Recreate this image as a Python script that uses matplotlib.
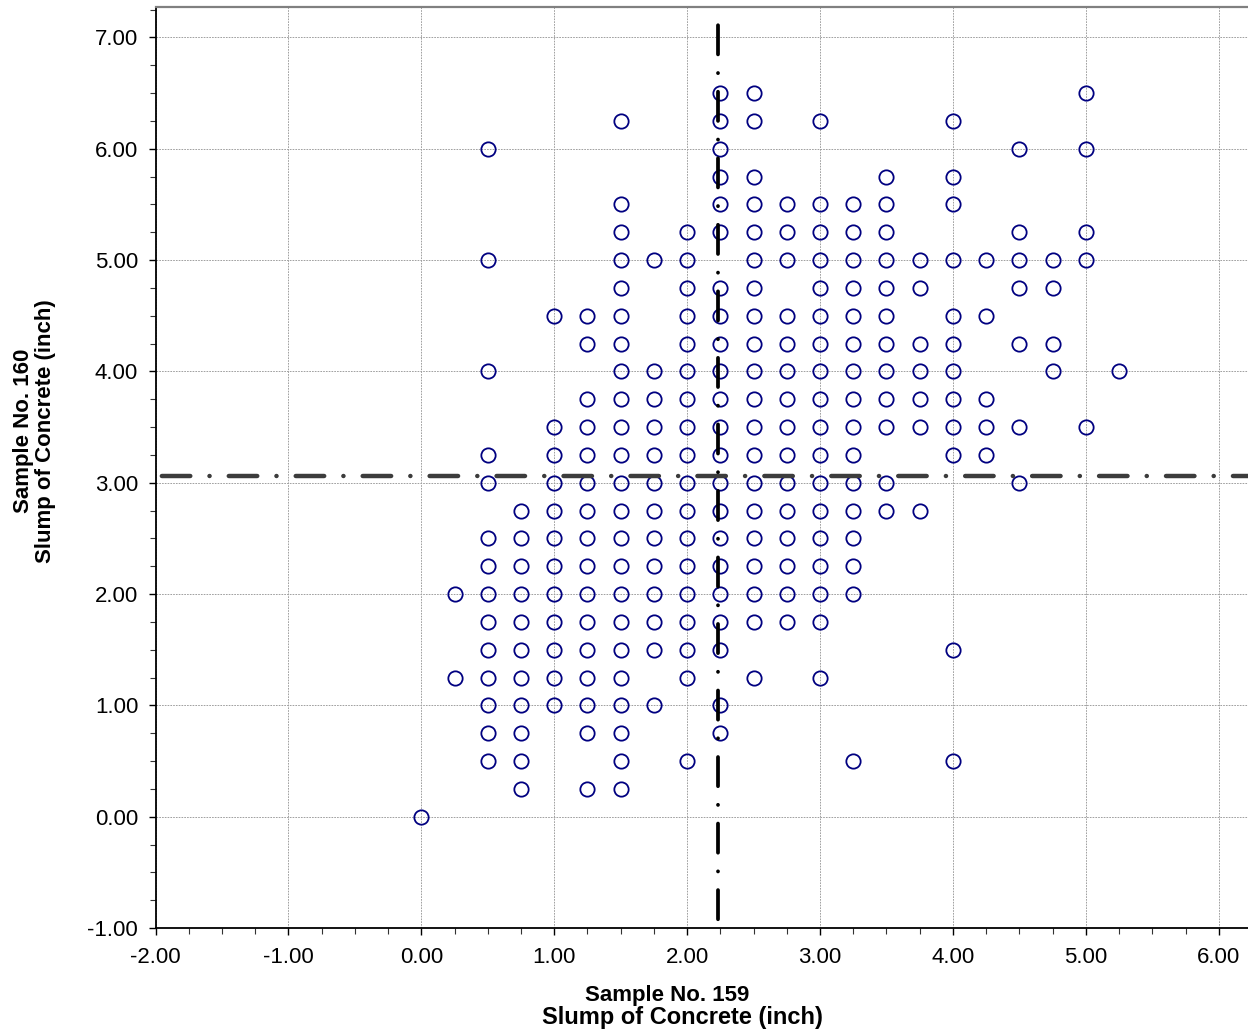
import matplotlib
matplotlib.use('Agg')
import matplotlib.pyplot as plt
from matplotlib.ticker import MultipleLocator, FormatStrFormatter

# --- Data: slump readings, grouped by Sample No. 160 value (row) ---
row_y = [6.5, 6.25, 6.0, 5.75, 5.5, 5.25, 5.0, 4.75, 4.5, 4.25, 4.0, 3.75, 3.5,
         3.25, 3.0, 2.75, 2.5, 2.25, 2.0, 1.75, 1.5, 1.25, 1.0, 0.75, 0.5, 0.25, 0.0]
row_x = [
    [2.25, 2.5, 5.0],
    [1.5, 2.25, 2.5, 3.0, 4.0],
    [0.5, 2.25, 4.5, 5.0],
    [2.25, 2.5, 3.5, 4.0],
    [1.5, 2.25, 2.5, 2.75, 3.0, 3.25, 3.5, 4.0],
    [1.5, 2.0, 2.25, 2.5, 2.75, 3.0, 3.25, 3.5, 4.5, 5.0],
    [0.5, 1.5, 1.75, 2.0, 2.5, 2.75, 3.0, 3.25, 3.5, 3.75, 4.0, 4.25, 4.5, 4.75, 5.0],
    [1.5, 2.0, 2.25, 2.5, 3.0, 3.25, 3.5, 3.75, 4.5, 4.75],
    [1.0, 1.25, 1.5, 2.0, 2.25, 2.5, 2.75, 3.0, 3.25, 3.5, 4.0, 4.25],
    [1.25, 1.5, 2.0, 2.25, 2.5, 2.75, 3.0, 3.25, 3.5, 3.75, 4.0, 4.5, 4.75],
    [0.5, 1.5, 1.75, 2.0, 2.25, 2.5, 2.75, 3.0, 3.25, 3.5, 3.75, 4.0, 4.75, 5.25],
    [1.25, 1.5, 1.75, 2.0, 2.25, 2.5, 2.75, 3.0, 3.25, 3.5, 3.75, 4.0, 4.25],
    [1.0, 1.25, 1.5, 1.75, 2.0, 2.25, 2.5, 2.75, 3.0, 3.25, 3.5, 3.75, 4.0, 4.25, 4.5, 5.0],
    [0.5, 1.0, 1.25, 1.5, 1.75, 2.0, 2.25, 2.5, 2.75, 3.0, 3.25, 4.0, 4.25],
    [0.5, 1.0, 1.25, 1.5, 1.75, 2.0, 2.25, 2.5, 2.75, 3.0, 3.25, 3.5, 4.5],
    [0.75, 1.0, 1.25, 1.5, 1.75, 2.0, 2.25, 2.5, 2.75, 3.0, 3.25, 3.5, 3.75],
    [0.5, 0.75, 1.0, 1.25, 1.5, 1.75, 2.0, 2.25, 2.5, 2.75, 3.0, 3.25],
    [0.5, 0.75, 1.0, 1.25, 1.5, 1.75, 2.0, 2.25, 2.5, 2.75, 3.0, 3.25],
    [0.25, 0.5, 0.75, 1.0, 1.25, 1.5, 1.75, 2.0, 2.25, 2.5, 2.75, 3.0, 3.25],
    [0.5, 0.75, 1.0, 1.25, 1.5, 1.75, 2.0, 2.25, 2.5, 2.75, 3.0],
    [0.5, 0.75, 1.0, 1.25, 1.5, 1.75, 2.0, 2.25, 4.0],
    [0.25, 0.5, 0.75, 1.0, 1.25, 1.5, 2.0, 2.5, 3.0],
    [0.5, 0.75, 1.0, 1.25, 1.5, 1.75, 2.25],
    [0.5, 0.75, 1.25, 1.5, 2.25],
    [0.5, 0.75, 1.5, 2.0, 3.25, 4.0],
    [0.75, 1.25, 1.5],
    [0.0],
]

# mean lines
mean_159 = 2.23
mean_160 = 3.058

x_label_1 = 'Sample No. 159'
x_label_2 = 'Slump of Concrete (inch)'
y_label = 'Sample No. 160\nSlump of Concrete (inch)'

# --- Style ---
plt.rcParams['font.family'] = ['Liberation Sans', 'DejaVu Sans']
plt.rcParams['axes.unicode_minus'] = False
plt.rcParams['lines.scale_dashes'] = False

xs, ys = [], []
for y, row in zip(row_y, row_x):
    for x in row:
        xs.append(x)
        ys.append(y)

fig = plt.figure(figsize=(12.48, 10.34), dpi=100)
ax = fig.add_axes([0.1246, 0.1025, 0.8754, 0.891])

ax.set_xlim(-2.0, 6.22)
ax.set_ylim(-1.0, 7.275)

ax.grid(True, which='major', color='#a0a0a0', linewidth=0.7, linestyle=(0, (1.2, 0.8)))
ax.set_axisbelow(True)

ax.plot(xs, ys, linestyle='none', marker='o', markersize=10.3,
        markerfacecolor='none', markeredgecolor='#000080', markeredgewidth=1.3, zorder=3)

# mean lines (dash-dot)
ax.axvline(mean_159, color='black', linewidth=2.7, dash_capstyle='round',
           linestyle=(41.6, (21.0, 13.4, 0.1, 13.4)), zorder=4)
ax.axhline(mean_160, color='#3c3c3c', linewidth=3.2, dash_capstyle='round',
           linestyle=(44.0, (20.5, 13.8, 0.1, 13.8)), zorder=4)

ax.xaxis.set_major_locator(MultipleLocator(1.0))
ax.xaxis.set_minor_locator(MultipleLocator(0.25))
ax.yaxis.set_major_locator(MultipleLocator(1.0))
ax.yaxis.set_minor_locator(MultipleLocator(0.25))
ax.xaxis.set_major_formatter(FormatStrFormatter('%.2f'))
ax.yaxis.set_major_formatter(FormatStrFormatter('%.2f'))

ax.tick_params(axis='both', which='major', labelsize=16, length=5, width=1.0, color='black')
ax.tick_params(axis='both', which='minor', length=4, width=0.8, color='#333333')
ax.tick_params(axis='x', which='major', pad=9)
ax.tick_params(axis='y', which='major', pad=7.5)

for side in ['left', 'bottom']:
    ax.spines[side].set_color('black')
    ax.spines[side].set_linewidth(1.3)
ax.spines['top'].set_color('#808080')
ax.spines['top'].set_linewidth(1.6)
ax.spines['right'].set_visible(False)

# x label: two lines, the second one is set a bit wider in the original
ax.set_xlabel(x_label_1, fontsize=16, fontweight='bold')
ax.xaxis.label.set_verticalalignment('baseline')
ax.xaxis.set_label_coords(0.4687, -0.0795)
ax.text(0.4819, -0.1045, x_label_2, transform=ax.transAxes, fontsize=17,
        fontweight='bold', ha='center', va='baseline')

ax.set_ylabel(y_label, fontsize=16, fontweight='bold', linespacing=1.05)
ax.yaxis.set_label_coords(-0.091, 0.5395)

plt.savefig('out.png', dpi=100)
plt.close(fig)
